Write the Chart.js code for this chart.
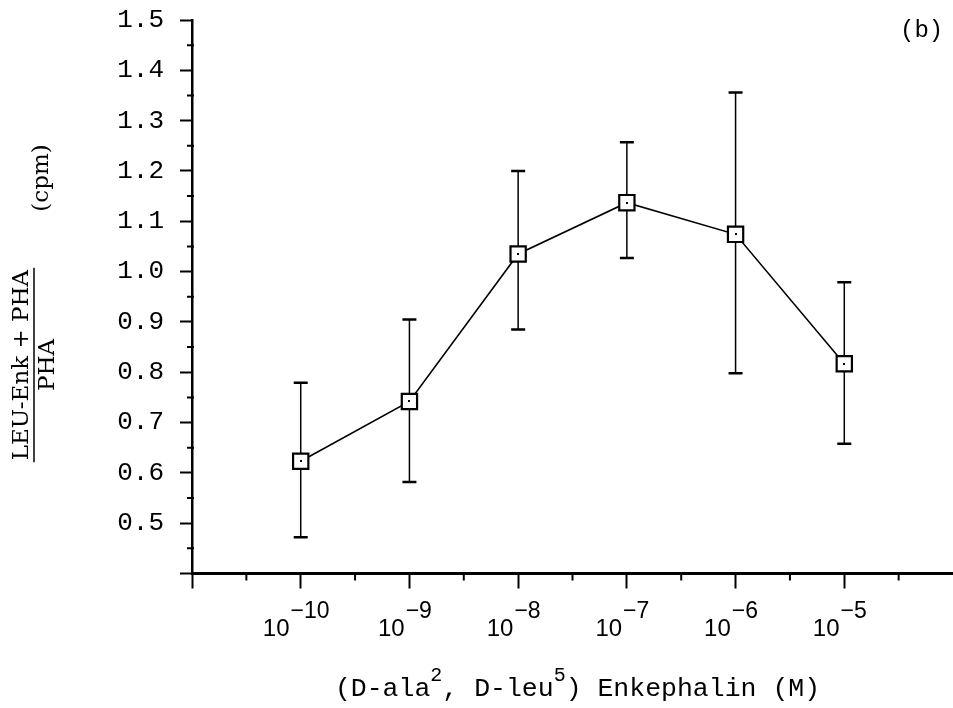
<!DOCTYPE html>
<html>
<head>
<meta charset="utf-8">
<script src="https://cdn.jsdelivr.net/npm/chart.js@4.4.1/dist/chart.umd.min.js"></script>
<style>
  html, body { margin: 0; padding: 0; background: #fff; }
  #wrap { width: 953px; height: 708px; }
</style>
</head>
<body>
<div id="wrap"><canvas id="chart" width="953" height="708"></canvas></div>
<script>
// concentration as log10(M), ratio means and error bar ends
const exponents = [-10, -9, -8, -7, -6, -5];
const ratioMean = [0.623, 0.742, 1.035, 1.137, 1.074, 0.817];
const errUpper = [0.779, 0.905, 1.200, 1.257, 1.356, 0.979];
const errLower = [0.472, 0.582, 0.885, 1.027, 0.798, 0.658];

const xMinorTicks = [-10.5, -9.5, -8.5, -7.5, -6.5, -5.5, -4.5];
const yMinorTicks = [0.45, 0.55, 0.65, 0.75, 0.85, 0.95, 1.05, 1.15, 1.25, 1.35, 1.45];
const xTickBase = '10';
const xTickExp = ['\u221210', '\u22129', '\u22128', '\u22127', '\u22126', '\u22125'];
const panelLabel = '(b)';
const xTitleParts = [['(D-ala', false], ['2', true], [', D-leu', false], ['5', true], [') Enkephalin (M)', false]];
const yTitleTop = 'LEU-Enk + PHA';
const yTitleBottom = 'PHA';
const yTitleUnit = '(cpm)';

const MONO = '"Liberation Mono", "DejaVu Sans Mono", monospace';
const SERIF = '"DejaVu Serif", "Liberation Serif", serif';
const SANS = '"Liberation Sans", Arial, sans-serif';

const paperPlugin = {
  id: 'paper',
  beforeDatasetsDraw(chart) {
    const ctx = chart.ctx, xs = chart.scales.x, ys = chart.scales.y;
    ctx.save();
    ctx.strokeStyle = '#000';
    exponents.forEach((e, i) => {
      const px = xs.getPixelForValue(e);
      const top = ys.getPixelForValue(errUpper[i]);
      const bot = ys.getPixelForValue(errLower[i]);
      ctx.lineWidth = 1.5;
      ctx.beginPath();
      ctx.moveTo(px, top); ctx.lineTo(px, bot);
      ctx.stroke();
      ctx.lineWidth = 2.5;
      ctx.beginPath();
      ctx.moveTo(px - 7, top); ctx.lineTo(px + 7, top);
      ctx.moveTo(px - 7, bot); ctx.lineTo(px + 7, bot);
      ctx.stroke();
    });
    ctx.restore();
  },
  afterDatasetsDraw(chart) {
    const ctx = chart.ctx, xs = chart.scales.x, ys = chart.scales.y;
    ctx.save();
    ctx.fillStyle = '#000';
    exponents.forEach((e, i) => {
      const px = xs.getPixelForValue(e), py = ys.getPixelForValue(ratioMean[i]);
      ctx.fillRect(Math.round(px) - 1, Math.round(py) - 1, 2, 2);
    });
    ctx.restore();
  },
  afterDraw(chart) {
    const ctx = chart.ctx, xs = chart.scales.x, ys = chart.scales.y;
    const area = chart.chartArea;
    ctx.save();
    ctx.strokeStyle = '#000';
    ctx.fillStyle = '#000';
    ctx.lineWidth = 2;

    // minor ticks
    ctx.beginPath();
    xMinorTicks.forEach(v => {
      const px = xs.getPixelForValue(v);
      ctx.moveTo(px, area.bottom); ctx.lineTo(px, area.bottom + 7);
    });
    yMinorTicks.forEach(v => {
      const py = ys.getPixelForValue(v);
      ctx.moveTo(area.left - 5, py); ctx.lineTo(area.left + 2, py);
    });
    ctx.stroke();

    // x tick labels 10^n
    ctx.textBaseline = 'alphabetic';
    ctx.textAlign = 'left';
    const baseFont = '24px ' + SANS;
    const expFont = '23px ' + SANS;
    exponents.forEach((e, i) => {
      const px = xs.getPixelForValue(e);
      ctx.font = baseFont;
      const wb = ctx.measureText(xTickBase).width;
      ctx.font = expFont;
      const we = ctx.measureText(xTickExp[i]).width;
      const x0 = px - (wb + we) / 2 - 5;
      ctx.font = baseFont;
      ctx.fillText(xTickBase, x0, 636);
      ctx.font = expFont;
      ctx.fillText(xTickExp[i], x0 + wb + 1, 618);
    });

    // x axis title with superscripts
    const mainFont = '26.5px ' + MONO, supFont = '20px ' + MONO;
    let total = 0;
    xTitleParts.forEach(([t, sup]) => { ctx.font = sup ? supFont : mainFont; total += ctx.measureText(t).width; });
    let tx = (area.left + area.right) / 2 + 5 - total / 2;
    xTitleParts.forEach(([t, sup]) => {
      ctx.font = sup ? supFont : mainFont;
      ctx.fillText(t, tx, sup ? 681 : 696);
      tx += ctx.measureText(t).width;
    });

    // panel label
    ctx.font = '24px ' + MONO;
    ctx.fillText(panelLabel, 900, 37);

    // y axis title, rotated fraction
    ctx.font = '23px ' + SERIF;
    ctx.textAlign = 'center';
    const cy = 365;
    const numW = ctx.measureText(yTitleTop).width;
    ctx.save();
    ctx.translate(28, cy); ctx.rotate(-Math.PI / 2);
    ctx.fillText(yTitleTop, 0, 0);
    ctx.restore();
    ctx.save();
    ctx.translate(54, cy); ctx.rotate(-Math.PI / 2);
    ctx.fillText(yTitleBottom, 0, 0);
    ctx.restore();
    ctx.lineWidth = 1.5;
    ctx.beginPath();
    ctx.moveTo(34, cy - numW / 2 - 2); ctx.lineTo(34, cy + numW / 2 + 2);
    ctx.stroke();
    ctx.save();
    ctx.translate(48, 178); ctx.rotate(-Math.PI / 2);
    ctx.fillText(yTitleUnit, 0, 0);
    ctx.restore();

    ctx.restore();
  }
};

new Chart(document.getElementById('chart'), {
  type: 'line',
  data: {
    datasets: [{
      data: exponents.map((e, i) => ({ x: e, y: ratioMean[i] })),
      borderColor: '#000',
      borderWidth: 1.6,
      pointStyle: 'rect',
      pointRadius: 10.8,
      pointBorderWidth: 2.2,
      pointBackgroundColor: '#fff',
      pointBorderColor: '#000',
      tension: 0,
      clip: false
    }]
  },
  options: {
    responsive: false,
    animation: false,
    layout: { autoPadding: false, padding: { left: 0, right: 0, top: 20, bottom: 0 } },
    plugins: { legend: { display: false }, tooltip: { enabled: false } },
    scales: {
      x: {
        type: 'linear', min: -11, max: -4,
        afterFit(scale) {
          scale.height = 708 - 573.5;
          scale.paddingLeft = 0; scale.paddingRight = 0;
        },
        ticks: { stepSize: 1, display: false },
        grid: {
          drawOnChartArea: false, tickLength: 15, tickWidth: 2,
          tickColor: c => (c.tick && c.tick.value === -4) ? 'rgba(0,0,0,0)' : '#000'
        },
        border: { color: '#000', width: 3 }
      },
      y: {
        type: 'linear', min: 0.4, max: 1.5,
        afterFit(scale) {
          scale.width = 192;
          scale.paddingTop = 0; scale.paddingBottom = 0;
        },
        ticks: {
          stepSize: 0.1, autoSkip: false, color: '#000', padding: 16,
          font: { family: MONO, size: 26 },
          callback: v => v < 0.45 ? '' : v.toFixed(1)
        },
        grid: { drawOnChartArea: false, tickLength: 12, tickWidth: 2, tickColor: '#000' },
        border: { color: '#000', width: 2.5 }
      }
    }
  },
  plugins: [paperPlugin]
});
</script>
</body>
</html>
